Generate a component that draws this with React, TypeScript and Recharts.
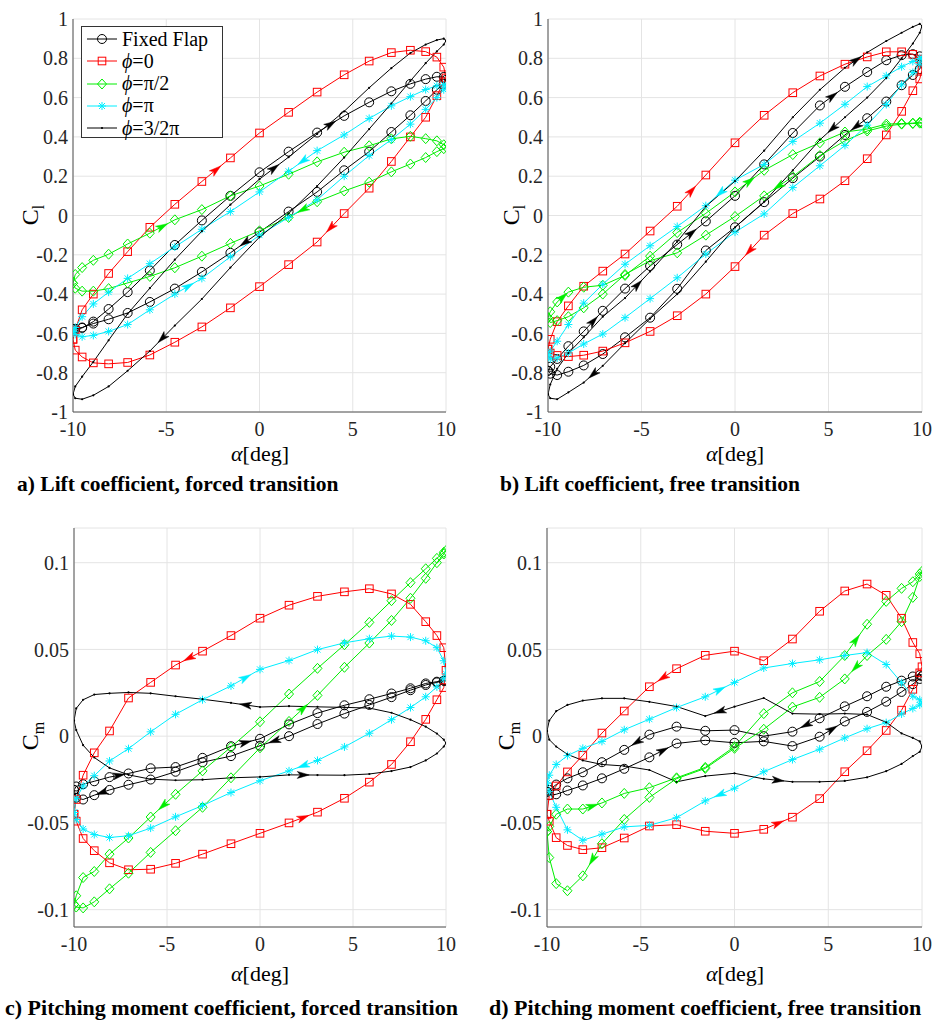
import React from 'react';
import { LineChart, Line, XAxis, YAxis, CartesianGrid } from 'recharts';

// angle of attack samples used by every loop (deg), -10 -> 10
const ALPHA = [-10, -9.88, -9.51, -8.91, -8.09, -7.07, -5.88, -4.54, -3.09, -1.56, 0, 1.56, 3.09, 4.54, 5.88, 7.07, 8.09, 8.91, 9.51, 9.88, 10];
const X_TICKS = [-10, -5, 0, 5, 10];
const CL_TICKS = [-1, -0.8, -0.6, -0.4, -0.2, 0, 0.2, 0.4, 0.6, 0.8, 1];
const CM_TICKS = [-0.1, -0.05, 0, 0.05, 0.1];
const SERIES_NAMES = ['Fixed Flap', 'ϕ=0', 'ϕ=π/2', 'ϕ=π', 'ϕ=3/2π'];
const CAPTIONS = [
  'a) Lift coefficient, forced transition',
  'b) Lift coefficient, free transition',
  'c) Pitching moment coefficient, forced transition',
  'd) Pitching moment coefficient, free transition',
];

// each series: *_INC = branch with alpha increasing, *_DEC = branch with alpha decreasing (both listed at ALPHA)
// a) Cl forced
const A_FIXED_INC = [-0.58, -0.578, -0.572, -0.54, -0.476, -0.39, -0.28, -0.15, -0.025, 0.1, 0.22, 0.325, 0.422, 0.507, 0.576, 0.632, 0.67, 0.694, 0.706, 0.705, 0.69];
const A_FIXED_DEC = [-0.58, -0.577, -0.57, -0.55, -0.528, -0.496, -0.44, -0.372, -0.287, -0.19, -0.085, 0.02, 0.12, 0.23, 0.325, 0.425, 0.51, 0.583, 0.64, 0.67, 0.69];
const A_PHI0_INC = [-0.63, -0.582, -0.48, -0.4, -0.295, -0.184, -0.06, 0.057, 0.173, 0.293, 0.42, 0.525, 0.628, 0.716, 0.786, 0.829, 0.841, 0.834, 0.806, 0.755, 0.7];
const A_PHI0_DEC = [-0.63, -0.685, -0.72, -0.75, -0.755, -0.748, -0.71, -0.645, -0.567, -0.47, -0.362, -0.25, -0.135, 0.01, 0.139, 0.275, 0.4, 0.5, 0.61, 0.68, 0.7];
const A_HALF_INC = [-0.345, -0.3, -0.265, -0.228, -0.197, -0.145, -0.09, -0.022, 0.03, 0.1, 0.15, 0.21, 0.273, 0.322, 0.355, 0.39, 0.403, 0.391, 0.38, 0.36, 0.35];
const A_HALF_DEC = [-0.345, -0.37, -0.385, -0.385, -0.372, -0.343, -0.31, -0.266, -0.207, -0.142, -0.078, -0.01, 0.07, 0.125, 0.17, 0.222, 0.262, 0.295, 0.325, 0.34, 0.35];
const A_PI_INC = [-0.59, -0.605, -0.617, -0.61, -0.59, -0.555, -0.48, -0.4, -0.32, -0.21, -0.1, -0.01, 0.08, 0.2, 0.305, 0.386, 0.465, 0.54, 0.6, 0.64, 0.66];
const A_PI_DEC = [-0.59, -0.57, -0.515, -0.45, -0.39, -0.32, -0.245, -0.16, -0.07, 0.02, 0.12, 0.225, 0.33, 0.41, 0.494, 0.558, 0.605, 0.641, 0.66, 0.665, 0.66];
const A_P34_INC = [-0.91, -0.87, -0.82, -0.745, -0.635, -0.5, -0.37, -0.225, -0.08, 0.055, 0.185, 0.297, 0.415, 0.53, 0.65, 0.75, 0.827, 0.87, 0.893, 0.9, 0.89];
const A_P34_DEC = [-0.91, -0.93, -0.935, -0.915, -0.87, -0.79, -0.69, -0.56, -0.425, -0.265, -0.11, 0.01, 0.15, 0.295, 0.44, 0.57, 0.685, 0.775, 0.835, 0.87, 0.89];

// b) Cl free
const B_FIXED_INC = [-0.79, -0.77, -0.73, -0.665, -0.59, -0.485, -0.372, -0.257, -0.148, -0.03, 0.1, 0.26, 0.42, 0.56, 0.655, 0.73, 0.79, 0.816, 0.821, 0.81, 0.78];
const B_FIXED_DEC = [-0.79, -0.805, -0.812, -0.795, -0.763, -0.705, -0.62, -0.52, -0.373, -0.178, -0.06, 0.068, 0.19, 0.3, 0.41, 0.495, 0.58, 0.663, 0.715, 0.745, 0.78];
const B_PHI0_INC = [-0.68, -0.63, -0.54, -0.46, -0.36, -0.283, -0.196, -0.079, 0.047, 0.206, 0.37, 0.51, 0.625, 0.71, 0.77, 0.807, 0.833, 0.833, 0.82, 0.796, 0.74];
const B_PHI0_DEC = [-0.68, -0.7, -0.712, -0.718, -0.711, -0.69, -0.648, -0.59, -0.51, -0.4, -0.26, -0.1, 0.01, 0.084, 0.177, 0.289, 0.41, 0.53, 0.635, 0.695, 0.74];
const B_HALF_INC = [-0.52, -0.49, -0.44, -0.39, -0.365, -0.355, -0.305, -0.207, -0.087, 0.011, 0.12, 0.23, 0.31, 0.37, 0.425, 0.44, 0.465, 0.468, 0.47, 0.475, 0.47];
const B_HALF_DEC = [-0.52, -0.545, -0.535, -0.515, -0.47, -0.4, -0.3, -0.23, -0.19, -0.1, -0.005, 0.1, 0.198, 0.305, 0.38, 0.43, 0.455, 0.465, 0.468, 0.47, 0.47];
const B_PI_INC = [-0.71, -0.73, -0.725, -0.7, -0.654, -0.603, -0.52, -0.423, -0.317, -0.196, -0.085, 0.008, 0.142, 0.253, 0.357, 0.46, 0.565, 0.665, 0.728, 0.77, 0.8];
const B_PI_DEC = [-0.71, -0.69, -0.64, -0.555, -0.446, -0.35, -0.248, -0.154, -0.056, 0.05, 0.18, 0.26, 0.377, 0.47, 0.566, 0.656, 0.711, 0.757, 0.784, 0.8, 0.8];
const B_P34_INC = [-0.91, -0.86, -0.78, -0.7, -0.62, -0.515, -0.42, -0.285, -0.133, 0.046, 0.175, 0.33, 0.5, 0.64, 0.752, 0.83, 0.888, 0.93, 0.96, 0.975, 0.965];
const B_P34_DEC = [-0.91, -0.93, -0.935, -0.9, -0.85, -0.765, -0.65, -0.525, -0.4, -0.235, -0.06, 0.07, 0.23, 0.385, 0.5, 0.6, 0.7, 0.8, 0.875, 0.93, 0.965];

// c) Cm forced
const C_FIXED_INC = [-0.031, -0.029, -0.0277, -0.026, -0.0236, -0.0215, -0.0185, -0.0178, -0.0125, -0.0058, -0.0015, 0.0068, 0.0133, 0.0178, 0.0213, 0.0246, 0.0276, 0.0304, 0.0314, 0.032, 0.032];
const C_FIXED_DEC = [-0.031, -0.0355, -0.0365, -0.034, -0.031, -0.028, -0.025, -0.0205, -0.015, -0.0115, -0.0055, 0.0, 0.007, 0.013, 0.018, 0.0225, 0.0265, 0.0295, 0.031, 0.032, 0.032];
const C_PHI0_INC = [-0.045, -0.049, -0.059, -0.066, -0.073, -0.077, -0.0767, -0.0733, -0.068, -0.062, -0.056, -0.05, -0.0438, -0.0358, -0.0265, -0.0163, -0.0032, 0.0097, 0.021, 0.028, 0.038];
const C_PHI0_DEC = [-0.045, -0.0365, -0.0225, -0.0096, 0.003, 0.022, 0.031, 0.041, 0.049, 0.058, 0.068, 0.0755, 0.0806, 0.0832, 0.085, 0.082, 0.076, 0.066, 0.058, 0.051, 0.038];
const C_HALF_INC = [-0.097, -0.0985, -0.099, -0.0955, -0.088, -0.079, -0.067, -0.0545, -0.041, -0.024, -0.0067, 0.0085, 0.0235, 0.0397, 0.0537, 0.0667, 0.0795, 0.091, 0.1, 0.105, 0.107];
const C_HALF_DEC = [-0.097, -0.092, -0.0815, -0.078, -0.068, -0.0587, -0.0466, -0.0335, -0.02, -0.0063, 0.0083, 0.0243, 0.0391, 0.0527, 0.0656, 0.0781, 0.0885, 0.0965, 0.1025, 0.106, 0.107];
const C_PI_INC = [-0.044, -0.036, -0.0287, -0.0228, -0.0143, -0.0072, 0.0025, 0.0126, 0.021, 0.029, 0.0385, 0.0436, 0.0499, 0.0538, 0.0562, 0.0577, 0.0571, 0.055, 0.051, 0.0435, 0.036];
const C_PI_DEC = [-0.044, -0.048, -0.0535, -0.0567, -0.0584, -0.0574, -0.053, -0.0465, -0.04, -0.0325, -0.0257, -0.02, -0.014, -0.0062, 0.0017, 0.0095, 0.0165, 0.0227, 0.0284, 0.033, 0.036];
const C_P34_INC = [0.009, 0.0035, -0.0052, -0.0123, -0.0183, -0.0223, -0.0248, -0.0254, -0.0251, -0.024, -0.0235, -0.0223, -0.0224, -0.0225, -0.0218, -0.0201, -0.0178, -0.014, -0.01, -0.006, -0.004];
const C_P34_DEC = [0.009, 0.016, 0.021, 0.024, 0.0247, 0.0252, 0.0247, 0.023, 0.0213, 0.0192, 0.0168, 0.0173, 0.0169, 0.0166, 0.0162, 0.0135, 0.0095, 0.0055, 0.0015, -0.002, -0.004];

// d) Cm free
const D_FIXED_INC = [-0.032, -0.034, -0.0335, -0.0313, -0.0284, -0.0243, -0.0188, -0.0122, -0.0042, -0.0024, -0.0038, -0.003, -0.0057, -0.0003, 0.0085, 0.014, 0.0199, 0.0255, 0.03, 0.033, 0.0345];
const D_FIXED_DEC = [-0.032, -0.031, -0.0279, -0.0243, -0.0208, -0.015, -0.0079, 0.0009, 0.0055, 0.0031, 0.0035, 0.0, 0.0026, 0.0103, 0.0172, 0.023, 0.0285, 0.032, 0.0344, 0.0352, 0.0345];
const D_PHI0_INC = [-0.045, -0.049, -0.0585, -0.063, -0.0654, -0.0643, -0.0587, -0.0518, -0.051, -0.0548, -0.056, -0.0537, -0.0467, -0.036, -0.0205, -0.0084, 0.0033, 0.015, 0.027, 0.0365, 0.04];
const D_PHI0_DEC = [-0.045, -0.0342, -0.0287, -0.0206, -0.011, 0.0018, 0.0145, 0.0285, 0.0389, 0.0466, 0.049, 0.0435, 0.056, 0.072, 0.0837, 0.0877, 0.0812, 0.068, 0.054, 0.0475, 0.04];
const D_HALF_INC = [-0.055, -0.052, -0.045, -0.042, -0.042, -0.0385, -0.033, -0.0297, -0.024, -0.018, -0.006, 0.013, 0.025, 0.0315, 0.0465, 0.0645, 0.0777, 0.0852, 0.089, 0.0935, 0.095];
const D_HALF_DEC = [-0.055, -0.07, -0.085, -0.0891, -0.0805, -0.062, -0.048, -0.0353, -0.0245, -0.0186, -0.007, 0.004, 0.0168, 0.0224, 0.033, 0.0465, 0.0558, 0.066, 0.08, 0.092, 0.095];
const D_PI_INC = [-0.027, -0.0225, -0.0163, -0.0112, -0.007, -0.003, 0.0037, 0.0098, 0.0165, 0.0227, 0.031, 0.0393, 0.0419, 0.044, 0.0465, 0.0482, 0.0413, 0.0308, 0.023, 0.021, 0.019];
const D_PI_DEC = [-0.027, -0.032, -0.041, -0.054, -0.06, -0.0565, -0.0523, -0.0514, -0.047, -0.0373, -0.03, -0.0205, -0.0135, -0.0075, -0.001, 0.0043, 0.0078, 0.0128, 0.016, 0.018, 0.019];
const D_P34_INC = [0.003, -0.002, -0.006, -0.0105, -0.014, -0.0163, -0.0172, -0.0195, -0.0263, -0.023, -0.0214, -0.0246, -0.0263, -0.0263, -0.0258, -0.0237, -0.0202, -0.016, -0.0115, -0.009, -0.006];
const D_P34_DEC = [0.003, 0.009, 0.0144, 0.018, 0.0205, 0.0218, 0.0218, 0.0198, 0.0171, 0.0116, 0.017, 0.022, 0.013, 0.0127, 0.013, 0.0125, 0.008, 0.0016, -0.001, -0.003, -0.006];

// direction arrows: [branch, segment index] per series
const A_ARROWS = [[['inc', 12], ['dec', 9]], [['inc', 8], ['dec', 12]], [['inc', 6], ['dec', 11]], [['inc', 7], ['dec', 11]], [['inc', 10], ['dec', 6]]];
const B_ARROWS = [[['inc', 4], ['inc', 8], ['inc', 13], ['dec', 14]], [['inc', 8], ['dec', 10]], [['inc', 2], ['inc', 10], ['dec', 11]], [['dec', 9]], [['inc', 6], ['inc', 14], ['dec', 4], ['dec', 13]]];
const C_ARROWS = [[['inc', 4], ['inc', 9], ['dec', 3], ['dec', 10]], [['inc', 11], ['dec', 7]], [['inc', 11], ['dec', 6]], [['inc', 9], ['dec', 11]], [['inc', 11], ['dec', 9]]];
const D_ARROWS = [[['inc', 7], ['inc', 13], ['dec', 6], ['dec', 12]], [['inc', 11], ['dec', 7]], [['inc', 4], ['inc', 14], ['dec', 4], ['dec', 14]], [['inc', 9], ['dec', 9]], [['inc', 11], ['dec', 9]]];

const STYLES = [
  { color: '#000000', marker: 'circle' },
  { color: '#ff0000', marker: 'square' },
  { color: '#00ee00', marker: 'diamond' },
  { color: '#00eeff', marker: 'star' },
  { color: '#000000', marker: 'dot' },
];

const FONT = '"Liberation Serif", "Times New Roman", Times, serif';
const X_AXIS_H = 40;

const PANELS = [
  { left: 0, top: 0, w: 466, h: 452, mt: 19, ml: 73, mr: 20, domain: [-1, 1], ticks: CL_TICKS,
    series: [[A_FIXED_INC, A_FIXED_DEC], [A_PHI0_INC, A_PHI0_DEC], [A_HALF_INC, A_HALF_DEC], [A_PI_INC, A_PI_DEC], [A_P34_INC, A_P34_DEC]], arrows: A_ARROWS },
  { left: 466, top: 0, w: 467, h: 452, mt: 19, ml: 82, mr: 11, domain: [-1, 1], ticks: CL_TICKS,
    series: [[B_FIXED_INC, B_FIXED_DEC], [B_PHI0_INC, B_PHI0_DEC], [B_HALF_INC, B_HALF_DEC], [B_PI_INC, B_PI_DEC], [B_P34_INC, B_P34_DEC]], arrows: B_ARROWS },
  { left: 0, top: 500, w: 466, h: 467, mt: 28, ml: 74, mr: 20, domain: [-0.11, 0.12], ticks: CM_TICKS,
    series: [[C_FIXED_INC, C_FIXED_DEC], [C_PHI0_INC, C_PHI0_DEC], [C_HALF_INC, C_HALF_DEC], [C_PI_INC, C_PI_DEC], [C_P34_INC, C_P34_DEC]], arrows: C_ARROWS },
  { left: 466, top: 500, w: 467, h: 467, mt: 28, ml: 81, mr: 11, domain: [-0.11, 0.12], ticks: CM_TICKS,
    series: [[D_FIXED_INC, D_FIXED_DEC], [D_PHI0_INC, D_PHI0_DEC], [D_HALF_INC, D_HALF_DEC], [D_PI_INC, D_PI_DEC], [D_P34_INC, D_P34_DEC]], arrows: D_ARROWS },
];

function buildLoop(inc: number[], dec: number[], arrows: any[]) {
  const pts: any[] = ALPHA.map((a, k) => ({ x: a, y: inc[k] }));
  for (let k = 19; k >= 0; k--) pts.push({ x: ALPHA[k], y: dec[k] });
  arrows.forEach(([br, k]: [string, number]) => {
    const i = br === 'inc' ? k : 39 - k;
    pts[i] = { ...pts[i], arrow: true, nx: pts[i + 1].x, ny: pts[i + 1].y };
  });
  return pts;
}

function marker(kind: string, c: string, cx: number, cy: number) {
  switch (kind) {
    case 'circle':
      return <circle cx={cx} cy={cy} r={4.5} fill="none" stroke={c} strokeWidth={1} />;
    case 'square':
      return <rect x={cx - 3.8} y={cy - 3.8} width={7.6} height={7.6} fill="none" stroke={c} strokeWidth={1} />;
    case 'diamond':
      return <path d={`M${cx},${cy - 5}L${cx + 4.5},${cy}L${cx},${cy + 5}L${cx - 4.5},${cy}Z`} fill="none" stroke={c} strokeWidth={1} />;
    case 'star':
      return (
        <path
          d={`M${cx - 4},${cy}L${cx + 4},${cy}M${cx},${cy - 4}L${cx},${cy + 4}M${cx - 3},${cy - 3}L${cx + 3},${cy + 3}M${cx - 3},${cy + 3}L${cx + 3},${cy - 3}`}
          stroke={c}
          strokeWidth={1}
        />
      );
    default:
      return <circle cx={cx} cy={cy} r={1.1} fill={c} />;
  }
}

function makeDot(style: any, sx: number, sy: number) {
  return (props: any) => {
    const { cx, cy, payload, index } = props;
    if (cx == null || cy == null) return <g key={`d${index}`} />;
    const c = style.color;
    let arrow = null;
    if (payload && payload.arrow) {
      const dx = (payload.nx - payload.x) * sx;
      const dy = -(payload.ny - payload.y) * sy;
      const len = Math.hypot(dx, dy) || 1;
      const ux = dx / len;
      const uy = dy / len;
      const mx = cx + dx / 2;
      const my = cy + dy / 2;
      const px = -uy;
      const py = ux;
      const tip = `${mx + ux * 6},${my + uy * 6}`;
      const b1 = `${mx - ux * 6 + px * 3.5},${my - uy * 6 + py * 3.5}`;
      const nt = `${mx - ux * 3},${my - uy * 3}`;
      const b2 = `${mx - ux * 6 - px * 3.5},${my - uy * 6 - py * 3.5}`;
      arrow = <path d={`M${tip}L${b1}L${nt}L${b2}Z`} fill={c} stroke={c} strokeWidth={0.5} />;
    }
    return (
      <g key={`d${index}`}>
        {marker(style.marker, c, cx, cy)}
        {arrow}
      </g>
    );
  };
}

const tickStyle = { fontSize: 20, fontFamily: FONT, fill: '#262626' };

function Panel({ p }: { p: any }) {
  const plotW = p.w - p.ml - p.mr;
  const plotH = p.h - p.mt - X_AXIS_H;
  const sx = plotW / 20;
  const sy = plotH / (p.domain[1] - p.domain[0]);
  return (
    <div style={{ position: 'absolute', left: p.left, top: p.top }}>
      <LineChart width={p.w} height={p.h} margin={{ top: p.mt, right: p.mr, bottom: 0, left: 0 }} style={{ fontFamily: FONT }}>
        <CartesianGrid stroke="#e4e4e4" strokeWidth={1} />
        <XAxis
          type="number"
          dataKey="x"
          domain={[-10, 10]}
          ticks={X_TICKS}
          interval={0}
          height={X_AXIS_H}
          tickSize={0}
          tickMargin={10}
          tick={tickStyle}
          axisLine={{ stroke: '#555' }}
          allowDataOverflow
        />
        <XAxis xAxisId="top" orientation="top" type="number" domain={[-10, 10]} height={0} tick={false} tickLine={false} axisLine={{ stroke: '#555' }} />
        <YAxis
          type="number"
          domain={p.domain}
          ticks={p.ticks}
          interval={0}
          width={p.ml}
          tickSize={0}
          tickMargin={5}
          tick={tickStyle}
          tickFormatter={(v: number) => String(v)}
          axisLine={{ stroke: '#555' }}
          allowDataOverflow
        />
        <YAxis yAxisId="right" orientation="right" type="number" domain={p.domain} width={0} tick={false} tickLine={false} axisLine={{ stroke: '#555' }} />
        {p.series.map((s: number[][], i: number) => (
          <Line
            key={SERIES_NAMES[i]}
            data={buildLoop(s[0], s[1], p.arrows[i])}
            dataKey="y"
            type="linear"
            stroke={STYLES[i].color}
            strokeWidth={1}
            dot={makeDot(STYLES[i], sx, sy)}
            activeDot={false}
            isAnimationActive={false}
          />
        ))}
      </LineChart>
    </div>
  );
}

function Legend() {
  return (
    <div style={{ position: 'absolute', left: 81, top: 26, width: 142, height: 112, border: '1px solid #333', background: '#fff', boxSizing: 'border-box' }}>
      {SERIES_NAMES.map((n, i) => (
        <div key={n} style={{ position: 'absolute', left: 0, top: 1 + i * 22.3, height: 22, display: 'flex', alignItems: 'center' }}>
          <svg width={40} height={22}>
            <line x1={5} x2={35} y1={11} y2={11} stroke={STYLES[i].color} strokeWidth={1} />
            {marker(STYLES[i].marker, STYLES[i].color, 20, 11)}
          </svg>
          <span style={{ fontFamily: FONT, fontSize: 20, color: '#000', whiteSpace: 'nowrap' }}>
            {n.startsWith('ϕ') ? (
              <>
                <i>ϕ</i>
                {n.slice(1)}
              </>
            ) : (
              n
            )}
          </span>
        </div>
      ))}
    </div>
  );
}

const Y_LABELS = [
  { x: 30, y: 215, t: 'C', s: 'l' },
  { x: 511, y: 215, t: 'C', s: 'l' },
  { x: 30, y: 736, t: 'C', s: 'm' },
  { x: 506, y: 736, t: 'C', s: 'm' },
];
const X_LABELS = [
  { x: 260, y: 454 },
  { x: 735, y: 454 },
  { x: 260, y: 974 },
  { x: 735, y: 974 },
];
const CAPTION_POS = [
  { x: 17, y: 485 },
  { x: 500, y: 485 },
  { x: 5, y: 1008 },
  { x: 489, y: 1008 },
];

export default function App() {
  return (
    <div style={{ position: 'absolute', left: 0, top: 0, width: 933, height: 1026, background: '#fff', overflow: 'hidden', fontFamily: FONT }}>
      {PANELS.map((p, i) => (
        <Panel key={i} p={p} />
      ))}
      <Legend />
      {Y_LABELS.map((l, i) => (
        <div
          key={`yl${i}`}
          style={{ position: 'absolute', left: l.x, top: l.y, transform: 'translate(-50%, -50%) rotate(-90deg)', fontFamily: FONT, fontSize: 24, whiteSpace: 'nowrap', lineHeight: 1 }}
        >
          {l.t}
          <span style={{ fontSize: 16, position: 'relative', top: 6 }}>{l.s}</span>
        </div>
      ))}
      {X_LABELS.map((l, i) => (
        <div
          key={`xl${i}`}
          style={{ position: 'absolute', left: l.x, top: l.y, transform: 'translate(-50%, -50%)', fontFamily: FONT, fontSize: 22, whiteSpace: 'nowrap', lineHeight: 1 }}
        >
          <i>α</i>[deg]
        </div>
      ))}
      {CAPTIONS.map((c, i) => (
        <div
          key={`cap${i}`}
          style={{ position: 'absolute', left: CAPTION_POS[i].x, top: CAPTION_POS[i].y, transform: 'translateY(-50%)', fontFamily: FONT, fontWeight: 'bold', fontSize: i >= 2 ? 22 : 21.5, whiteSpace: 'nowrap', lineHeight: 1 }}
        >
          {c}
        </div>
      ))}
    </div>
  );
}
